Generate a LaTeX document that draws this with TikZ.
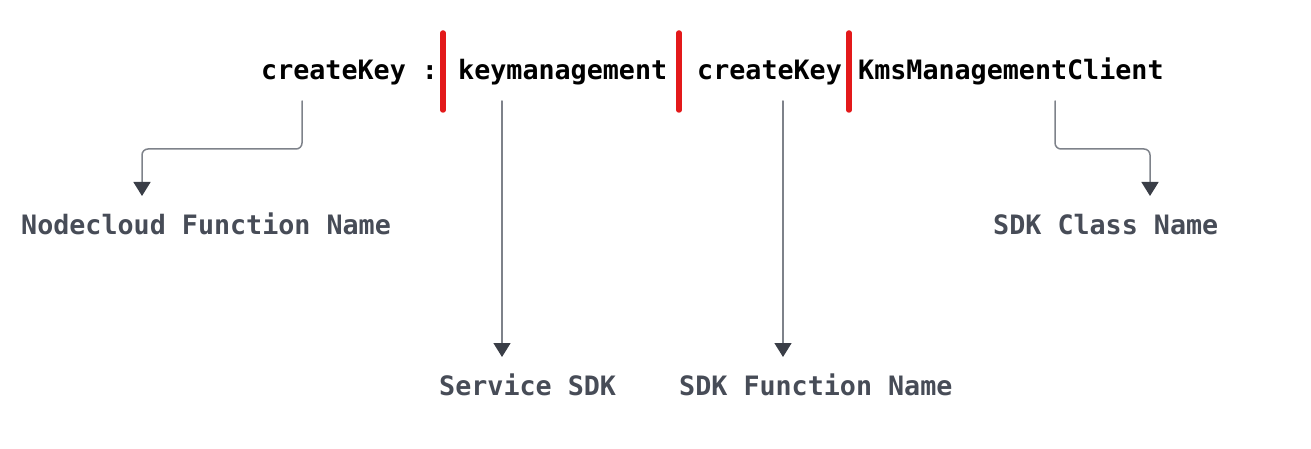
\documentclass[tikz,border=0pt]{standalone}
\usepackage{fontspec}
\setmonofont{DejaVu Sans Mono}
\usetikzlibrary{arrows.meta}
\definecolor{barred}{HTML}{E3191A}
\definecolor{taggray}{HTML}{474C57}
\definecolor{linegray}{HTML}{7E828A}
\definecolor{tipgray}{HTML}{3A3E47}

\begin{document}
\begin{tikzpicture}[x=1pt, y=-1pt, every node/.style={font=\ttfamily\bfseries\fontsize{26.7}{30}\selectfont, inner sep=0pt}, line cap=round, line join=round]
  \tikzset{part/.style={anchor=base west, text=black}, tag/.style={anchor=base west, text=taggray}, link/.style={draw=linegray, line width=1.5pt, rounded corners=6pt, -{Triangle[length=14pt, width=17pt, color=tipgray]}}, bar/.style={draw=barred, line width=5.5pt}}
  \useasboundingbox (0,0) rectangle (1311,449);

  % the call
  \node[part] (ck1) at (261,80) {createKey :};
  \node[part] (km) at (458,80) {keymanagement};
  \node[part] (ck2) at (697,80) {createKey};
  \node[part] (kms) at (858,80) {KmsManagementClient};
  \foreach \x in {443,679,849}
    \draw[bar] (\x,33) -- (\x,110);

  % what each part means
  \node[tag] (fn) at (21,234) {Nodecloud Function Name};
  \node[tag] (cls) at (993,234) {SDK Class Name};
  \node[tag] (svc) at (439,395) {Service SDK};
  \node[tag] (sfn) at (679,395) {SDK Function Name};

  % arrows
  \coordinate (a1) at (302,101);  \coordinate (t1) at (142,196);
  \coordinate (a2) at (502,101);  \coordinate (t2) at (502,357);
  \coordinate (a3) at (783,101);  \coordinate (t3) at (783,357);
  \coordinate (a4) at (1055,101); \coordinate (t4) at (1150,196);
  \draw[link] (a1) -- ++(0,48) -| (t1);
  \draw[link] (a2) -- (t2);
  \draw[link] (a3) -- (t3);
  \draw[link] (a4) -- ++(0,48) -| (t4);
\end{tikzpicture}
\end{document}
